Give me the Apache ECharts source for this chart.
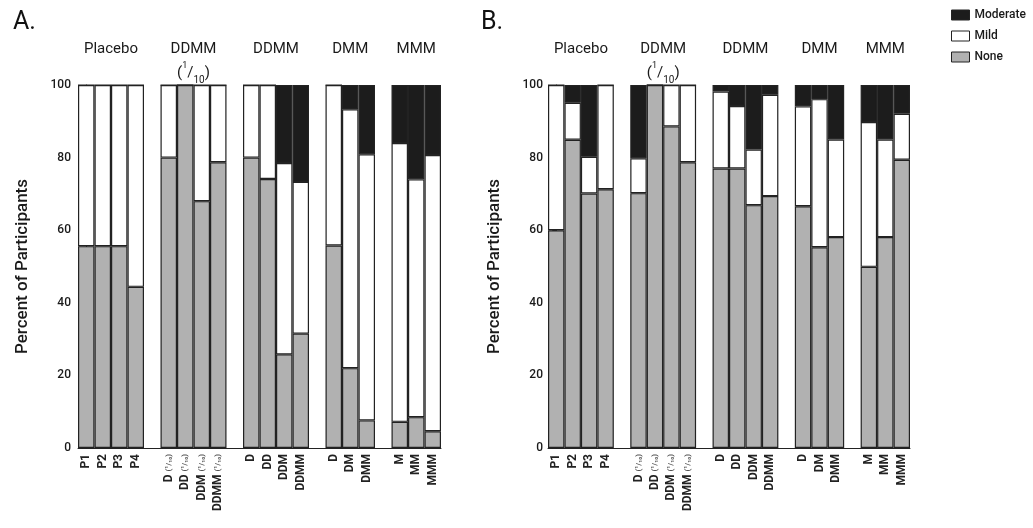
<!DOCTYPE html>
<html><head><meta charset="utf-8">
<script src="https://cdn.jsdelivr.net/npm/echarts@6/dist/echarts.min.js"></script>
<style>html,body{margin:0;padding:0;background:#fff}#c{width:1033px;height:528px}</style>
</head><body><div id="c"></div>
<script>
const FONT = 'Roboto, "Liberation Sans", sans-serif';
const groupNames = ['Placebo', 'DDMM|1/10', 'DDMM', 'DMM', 'MMM'];
const groupCenters = [1.5, 6.5, 11.5, 16, 20];
const categories = ['P1','P2','P3','P4','',
  'D|1/10','DD|1/10','DDM|1/10','DDMM|1/10','',
  'D','DD','DDM','DDMM','',
  'D','DM','DMM','',
  'M','MM','MMM'];
const yTicks = [0, 20, 40, 60, 80, 100];

const noneA = [55.6,55.6,55.6,44.4,null, 80,100,68,78.7,null, 80,74.1,25.8,31.5,null, 55.8,22,7.6,null, 7.2,8.5,4.6];
const mildA = [44.4,44.4,44.4,55.6,null, 20,0,32,21.3,null, 20,25.9,52.7,41.8,null, 44.2,71.3,73.3,null, 76.8,65.5,76.1];
const modA  = [0,0,0,0,null, 0,0,0,0,null, 0,0,21.5,26.7,null, 0,6.7,19.1,null, 16,26,19.3];

const noneB = [60,84.9,70.1,71.3,null, 70.2,100,88.6,78.7,null, 77,77,66.9,69.4,null, 66.6,55.3,58.1,null, 49.9,58.1,79.4];
const mildB = [40,10.2,10.1,28.7,null, 9.6,0,11.4,21.3,null, 21.2,17.2,15.3,27.9,null, 27.5,40.8,26.9,null, 39.9,26.9,12.7];
const modB  = [0,4.9,19.8,0,null, 20.2,0,0,0,null, 1.8,5.8,17.8,2.7,null, 5.9,3.9,15,null, 10.2,15,7.9];

const COL = {None:'#b1b1b1', Mild:'#ffffff', Moderate:'#1c1c1c'};
const chart = echarts.init(document.getElementById('c'));

function catLabel(v){
  if(!v) return '';
  const p = v.split('|');
  return p.length > 1 ? p[0] + ' {s|(\u00b9/\u2081\u2080)}' : p[0];
}
function groupLabel(val){
  const i = groupCenters.indexOf(val);
  if(i < 0) return '';
  const p = groupNames[i].split('|');
  return p.length > 1 ? '{t|' + p[0] + '}\n{t|(}{u|1}{t|/}{d|10}{t|)}' : '{t|' + p[0] + '}';
}
const grids = [
  {left: 78, top: 85, width: 363, height: 363},
  {left: 548, top: 85, width: 362, height: 363}
];
const xAxes = [], yAxes = [];
[0,1].forEach(g => {
  xAxes.push({
    type: 'category', gridIndex: g, data: categories,
    axisLine: {show: true, lineStyle: {color: '#222', width: 1}},
    axisTick: {show: false},
    axisLabel: {rotate: 90, margin: 6, interval: 0, fontFamily: FONT, fontSize: 12, fontWeight: 'bold', color: '#222',
      formatter: catLabel, rich: {s: {fontSize: 8, fontFamily: FONT, color: '#555'}}}
  });
  yAxes.push({
    type: 'value', gridIndex: g, min: 0, max: 100, interval: 20, offset: g === 0 ? 3 : 1,
    name: 'Percent of Participants', nameLocation: 'middle', nameGap: 44,
    nameTextStyle: {fontFamily: FONT, fontSize: 17, color: '#1a1a1a', fontWeight: 500},
    axisLine: {show: true, lineStyle: {color: '#222'}},
    axisTick: {show: true, length: 4, lineStyle: {color: '#222'}},
    splitLine: {show: false},
    axisLabel: {margin: 4, fontFamily: FONT, fontSize: 12, color: '#1a1a1a', fontWeight: 500,
      customValues: yTicks}
  });
});
[0,1].forEach(g => {
  xAxes.push({
    type: 'value', gridIndex: g, position: 'top', min: -0.5, max: 21.5,
    axisLine: {show: false}, axisTick: {show: false}, splitLine: {show: false},
    axisLabel: {show: true, customValues: groupCenters, formatter: groupLabel, margin: 48,
      verticalAlign: 'top', align: 'center', lineHeight: 24,
      rich: {
        t: {fontFamily: FONT, fontSize: 15, color: '#1a1a1a', fontWeight: 'normal', lineHeight: 24},
        u: {fontFamily: FONT, fontSize: 9, color: '#1a1a1a', verticalAlign: 'top', lineHeight: 24},
        d: {fontFamily: FONT, fontSize: 10, color: '#1a1a1a', verticalAlign: 'bottom', lineHeight: 20}
      }}
  });
});
function mk(name, data, g){
  return {
    name: name, type: 'bar', stack: 's' + g, xAxisIndex: g, yAxisIndex: g, data: data,
    barCategoryGap: '0%', barGap: '0%',
    itemStyle: {color: COL[name], borderColor: '#222', borderWidth: 1.2},
    emphasis: {disabled: true}, animation: false
  };
}
chart.setOption({
  animation: false,
  textStyle: {fontFamily: FONT},
  title: [
    {text: 'A.', left: 8, top: 5, textStyle: {fontFamily: FONT, fontSize: 25, fontWeight: 'normal', color: '#111'}},
    {text: 'B.', left: 476, top: 5, textStyle: {fontFamily: FONT, fontSize: 25, fontWeight: 'normal', color: '#111'}}
  ],
  legend: {
    data: ['Moderate', 'Mild', 'None'], orient: 'vertical', left: 951, top: 9, icon: 'rect', padding: 0,
    itemWidth: 18, itemHeight: 10, itemGap: 9, selectedMode: false,
    textStyle: {fontFamily: FONT, fontSize: 12, color: '#1a1a1a', fontWeight: 500},
    itemStyle: {borderColor: '#222', borderWidth: 1}
  },
  grid: grids,
  xAxis: xAxes,
  yAxis: yAxes,
  series: [
    mk('None', noneA, 0), mk('Mild', mildA, 0), mk('Moderate', modA, 0),
    mk('None', noneB, 1), mk('Mild', mildB, 1), mk('Moderate', modB, 1)
  ]
});
</script></body></html>
